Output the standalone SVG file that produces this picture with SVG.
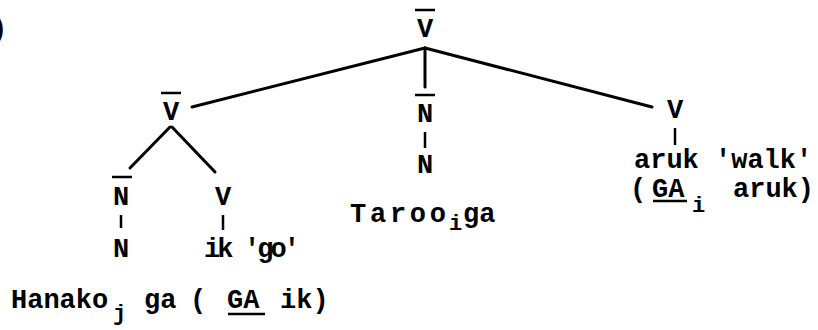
<svg xmlns="http://www.w3.org/2000/svg" width="818" height="330" viewBox="0 0 818 330">
<style>
text{font-family:"Liberation Mono","Courier New",monospace;font-size:27px;font-weight:bold;fill:#000}
.c{text-anchor:middle}
.sub{font-size:22px}
.ln{stroke:#000;stroke-width:3;fill:none;stroke-linecap:round}
.tk{stroke:#000;stroke-width:2.5;fill:none}
.bar{stroke:#000;stroke-width:2.5}
</style>
<rect width="818" height="330" fill="#fff"/>
<text x="-9" y="37">)</text>
<g id="connectors">
<path class="ln" d="M425 48 L192 107"/>
<path class="ln" d="M425 48 L652 107"/>
<path class="ln" d="M425 48 L425 87"/>
<path class="ln" d="M170 127 L130 168"/>
<path class="ln" d="M172 127 L215 172"/>
<path class="tk" d="M425 132 V148"/>
<path class="tk" d="M121 215 V228"/>
<path class="tk" d="M223 215 V230"/>
<path class="tk" d="M675 128 V145"/>
</g>
<g id="root-vbar">
<line class="bar" x1="415" y1="10" x2="435" y2="10"/>
<text class="c" x="425" y="37">V</text>
</g>
<g id="left-vbar">
<line class="bar" x1="161" y1="93" x2="181" y2="93"/>
<text class="c" x="171" y="120">V</text>
</g>
<g id="mid-nbar">
<line class="bar" x1="415" y1="95" x2="435" y2="95"/>
<text class="c" x="425" y="122">N</text>
</g>
<g id="mid-n">
<text class="c" x="425" y="173">N</text>
<text x="350" y="222" textLength="96" lengthAdjust="spacing">Taroo</text>
<text class="sub" x="449" y="230">i</text>
<text x="463" y="222">ga</text>
</g>
<g id="right-v">
<text class="c" x="675" y="118">V</text>
<text x="634" y="168">aruk 'walk'</text>
<text x="630" y="197">(</text>
<text x="652" y="197">GA</text>
<line class="bar" x1="653" y1="201" x2="687" y2="201"/>
<text class="sub" x="692" y="212">i</text>
<text x="733" y="197">aruk)</text>
</g>
<g id="left-nbar">
<line class="bar" x1="112" y1="177" x2="132" y2="177"/>
<text class="c" x="121" y="205">N</text>
</g>
<g id="left-n">
<text class="c" x="121" y="257">N</text>
<text x="11" y="308">Hanako</text>
<text class="sub" x="113" y="320">j</text>
<text x="144" y="308">ga</text>
<text x="190" y="308">(</text>
<text x="227" y="308">GA</text>
<line class="bar" x1="228" y1="314" x2="265" y2="314"/>
<text x="280" y="308">ik)</text>
</g>
<g id="left-v">
<text class="c" x="223" y="205">V</text>
<text x="204" y="257" textLength="96" lengthAdjust="spacing">ik 'go'</text>
</g>
</svg>
